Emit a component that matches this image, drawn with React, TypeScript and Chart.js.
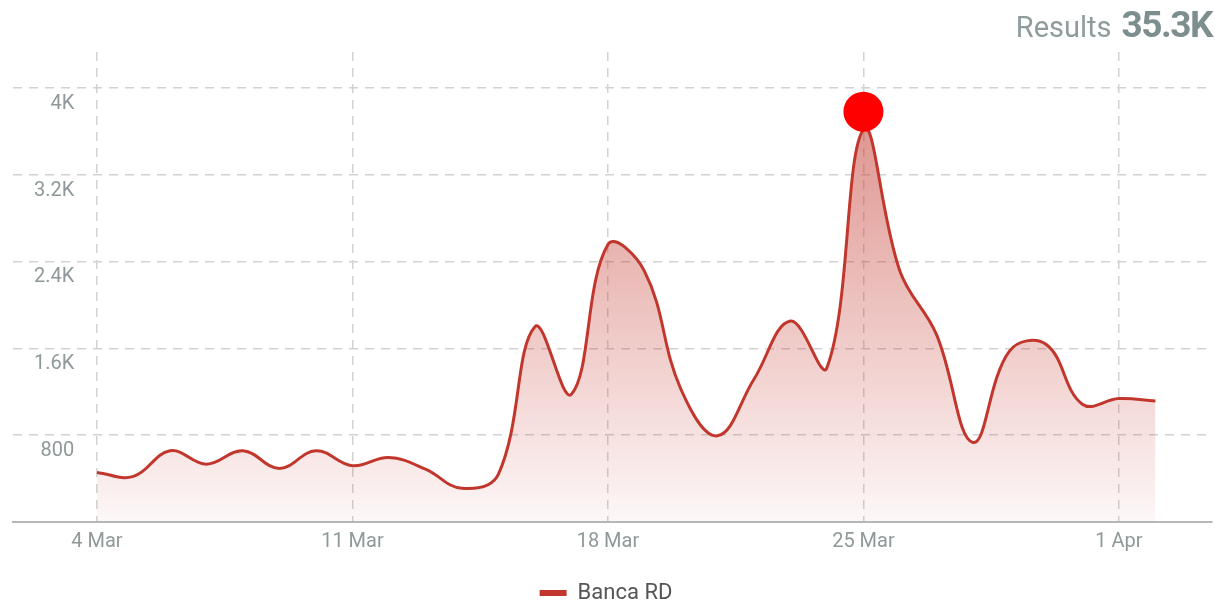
import React, { useEffect, useRef } from 'react';
import { Chart, registerables } from 'chart.js';

Chart.register(...registerables);

// ---- data ----
const dates = [
  '4 Mar', '5 Mar', '6 Mar', '7 Mar', '8 Mar', '9 Mar', '10 Mar', '11 Mar', '12 Mar', '13 Mar',
  '14 Mar', '15 Mar', '16 Mar', '17 Mar', '18 Mar', '19 Mar', '20 Mar', '21 Mar', '22 Mar', '23 Mar',
  '24 Mar', '25 Mar', '26 Mar', '27 Mar', '28 Mar', '29 Mar', '30 Mar', '31 Mar', '1 Apr', '2 Apr',
];
const bancaRD = [
  457, 420, 656, 533, 656, 494, 656, 518, 595, 487,
  310, 441, 1799, 1177, 2556, 2311, 1223, 794, 1315, 1851,
  1422, 3614, 2311, 1729, 733, 1575, 1637, 1085, 1137, 1115,
];
const xTickLabels = ['4 Mar', '11 Mar', '18 Mar', '25 Mar', '1 Apr'];
const yTickValues = [800, 1600, 2400, 3200, 4000];
const yTickLabels = ['800', '1.6K', '2.4K', '3.2K', '4K'];
const peakDate = '25 Mar';
const peakMarkerValue = 3780;
const seriesName = 'Banca RD';
const resultsLabel = 'Results';
const resultsTotal = '35.3K';

const LINE = 'rgb(194, 55, 45)';

export default function App() {
  const canvasRef = useRef<HTMLCanvasElement | null>(null);

  useEffect(() => {
    if (!canvasRef.current) return;
    const lineData = bancaRD.map((v, i) => ({ x: i, y: v }));
    const markerData = [{ x: dates.indexOf(peakDate), y: peakMarkerValue }];

    const chart = new Chart(canvasRef.current, {
      type: 'line',
      data: {
        datasets: [
          {
            label: 'peak',
            data: markerData,
            showLine: false,
            pointRadius: 20,
            pointHoverRadius: 20,
            pointBackgroundColor: '#ff0000',
            pointBorderWidth: 0,
            borderWidth: 0,
            order: 0,
          },
          {
            label: seriesName,
            data: lineData,
            borderColor: LINE,
            borderWidth: 3,
            tension: 0.4,
            pointRadius: 0,
            fill: 'origin',
            order: 1,
            backgroundColor: (ctx: any) => {
              const { chart } = ctx;
              const area = chart.chartArea;
              if (!area) return 'rgba(196,58,48,0.3)';
              const g = chart.ctx.createLinearGradient(0, area.top, 0, area.bottom);
              g.addColorStop(0, 'rgba(196,58,48,0.62)');
              g.addColorStop(1, 'rgba(196,58,48,0.04)');
              return g;
            },
          },
        ],
      },
      options: {
        animation: false,
        responsive: false,
        layout: { autoPadding: false, padding: { top: 52, left: 0, right: 3, bottom: -10 } },
        plugins: {
          tooltip: { enabled: false },
          title: { display: false },
          legend: {
            position: 'bottom',
            labels: {
              boxWidth: 27,
              boxHeight: 6,
              padding: 20,
              color: '#555555',
              font: { family: 'Roboto', size: 22 },
              filter: (item: any) => item.text === seriesName,
              generateLabels: (chart: any) => {
                const items = Chart.defaults.plugins.legend.labels.generateLabels(chart);
                return items.map((it: any) => ({ ...it, fillStyle: LINE, strokeStyle: LINE, lineWidth: 0 }));
              },
            },
          },
        },
        scales: {
          x: {
            type: 'linear',
            min: -2.3,
            max: 30.55,
            afterBuildTicks: (scale: any) => {
              scale.ticks = xTickLabels.map((l) => ({ value: dates.indexOf(l) }));
            },
            afterFit: (scale: any) => {
              scale.paddingLeft = 0;
              scale.paddingRight = 0;
            },
            ticks: {
              callback: (v: any) => dates[v] ?? '',
              color: '#8f9999',
              font: { family: 'Roboto', size: 20 },
              padding: 8,
              maxRotation: 0,
              autoSkip: false,
            },
            grid: { color: '#d2d2d2', lineWidth: 1.5, drawTicks: false },
            border: { display: true, color: '#b4b8b8', width: 2, dash: [9, 7] },
          },
          y: {
            type: 'linear',
            min: 0,
            max: 4330,
            afterBuildTicks: (scale: any) => {
              scale.ticks = yTickValues.map((v) => ({ value: v }));
            },
            afterFit: (scale: any) => {
              scale.width = 13;
              scale.paddingTop = 0;
              scale.paddingBottom = 0;
            },
            ticks: {
              callback: (v: any) => yTickLabels[yTickValues.indexOf(v)] ?? '',
              color: '#8f9999',
              font: { family: 'Roboto', size: 20 },
              mirror: true,
              crossAlign: 'far',
              padding: 21,
              labelOffset: 16,
            },
            grid: { color: '#d2d2d2', lineWidth: 1.5, drawTicks: false },
            border: { display: false, dash: [9, 7] },
          },
        },
      },
    } as any);

    return () => chart.destroy();
  }, []);

  return (
    <div style={{ position: 'fixed', left: 0, top: 0, width: 1215, height: 604, background: '#ffffff' }}>
      <canvas ref={canvasRef} width={1215} height={604} style={{ display: 'block' }} />
      <div
        style={{
          position: 'absolute',
          right: 3,
          top: 3,
          display: 'flex',
          alignItems: 'baseline',
          fontFamily: 'Roboto, sans-serif',
          lineHeight: '44px',
        }}
      >
        <span style={{ fontSize: 29, color: '#8e9c9c', marginRight: 10 }}>{resultsLabel}</span>
        <span style={{ fontSize: 37, fontWeight: 700, color: '#7d8e8e', letterSpacing: -1.5 }}>{resultsTotal}</span>
      </div>
    </div>
  );
}
